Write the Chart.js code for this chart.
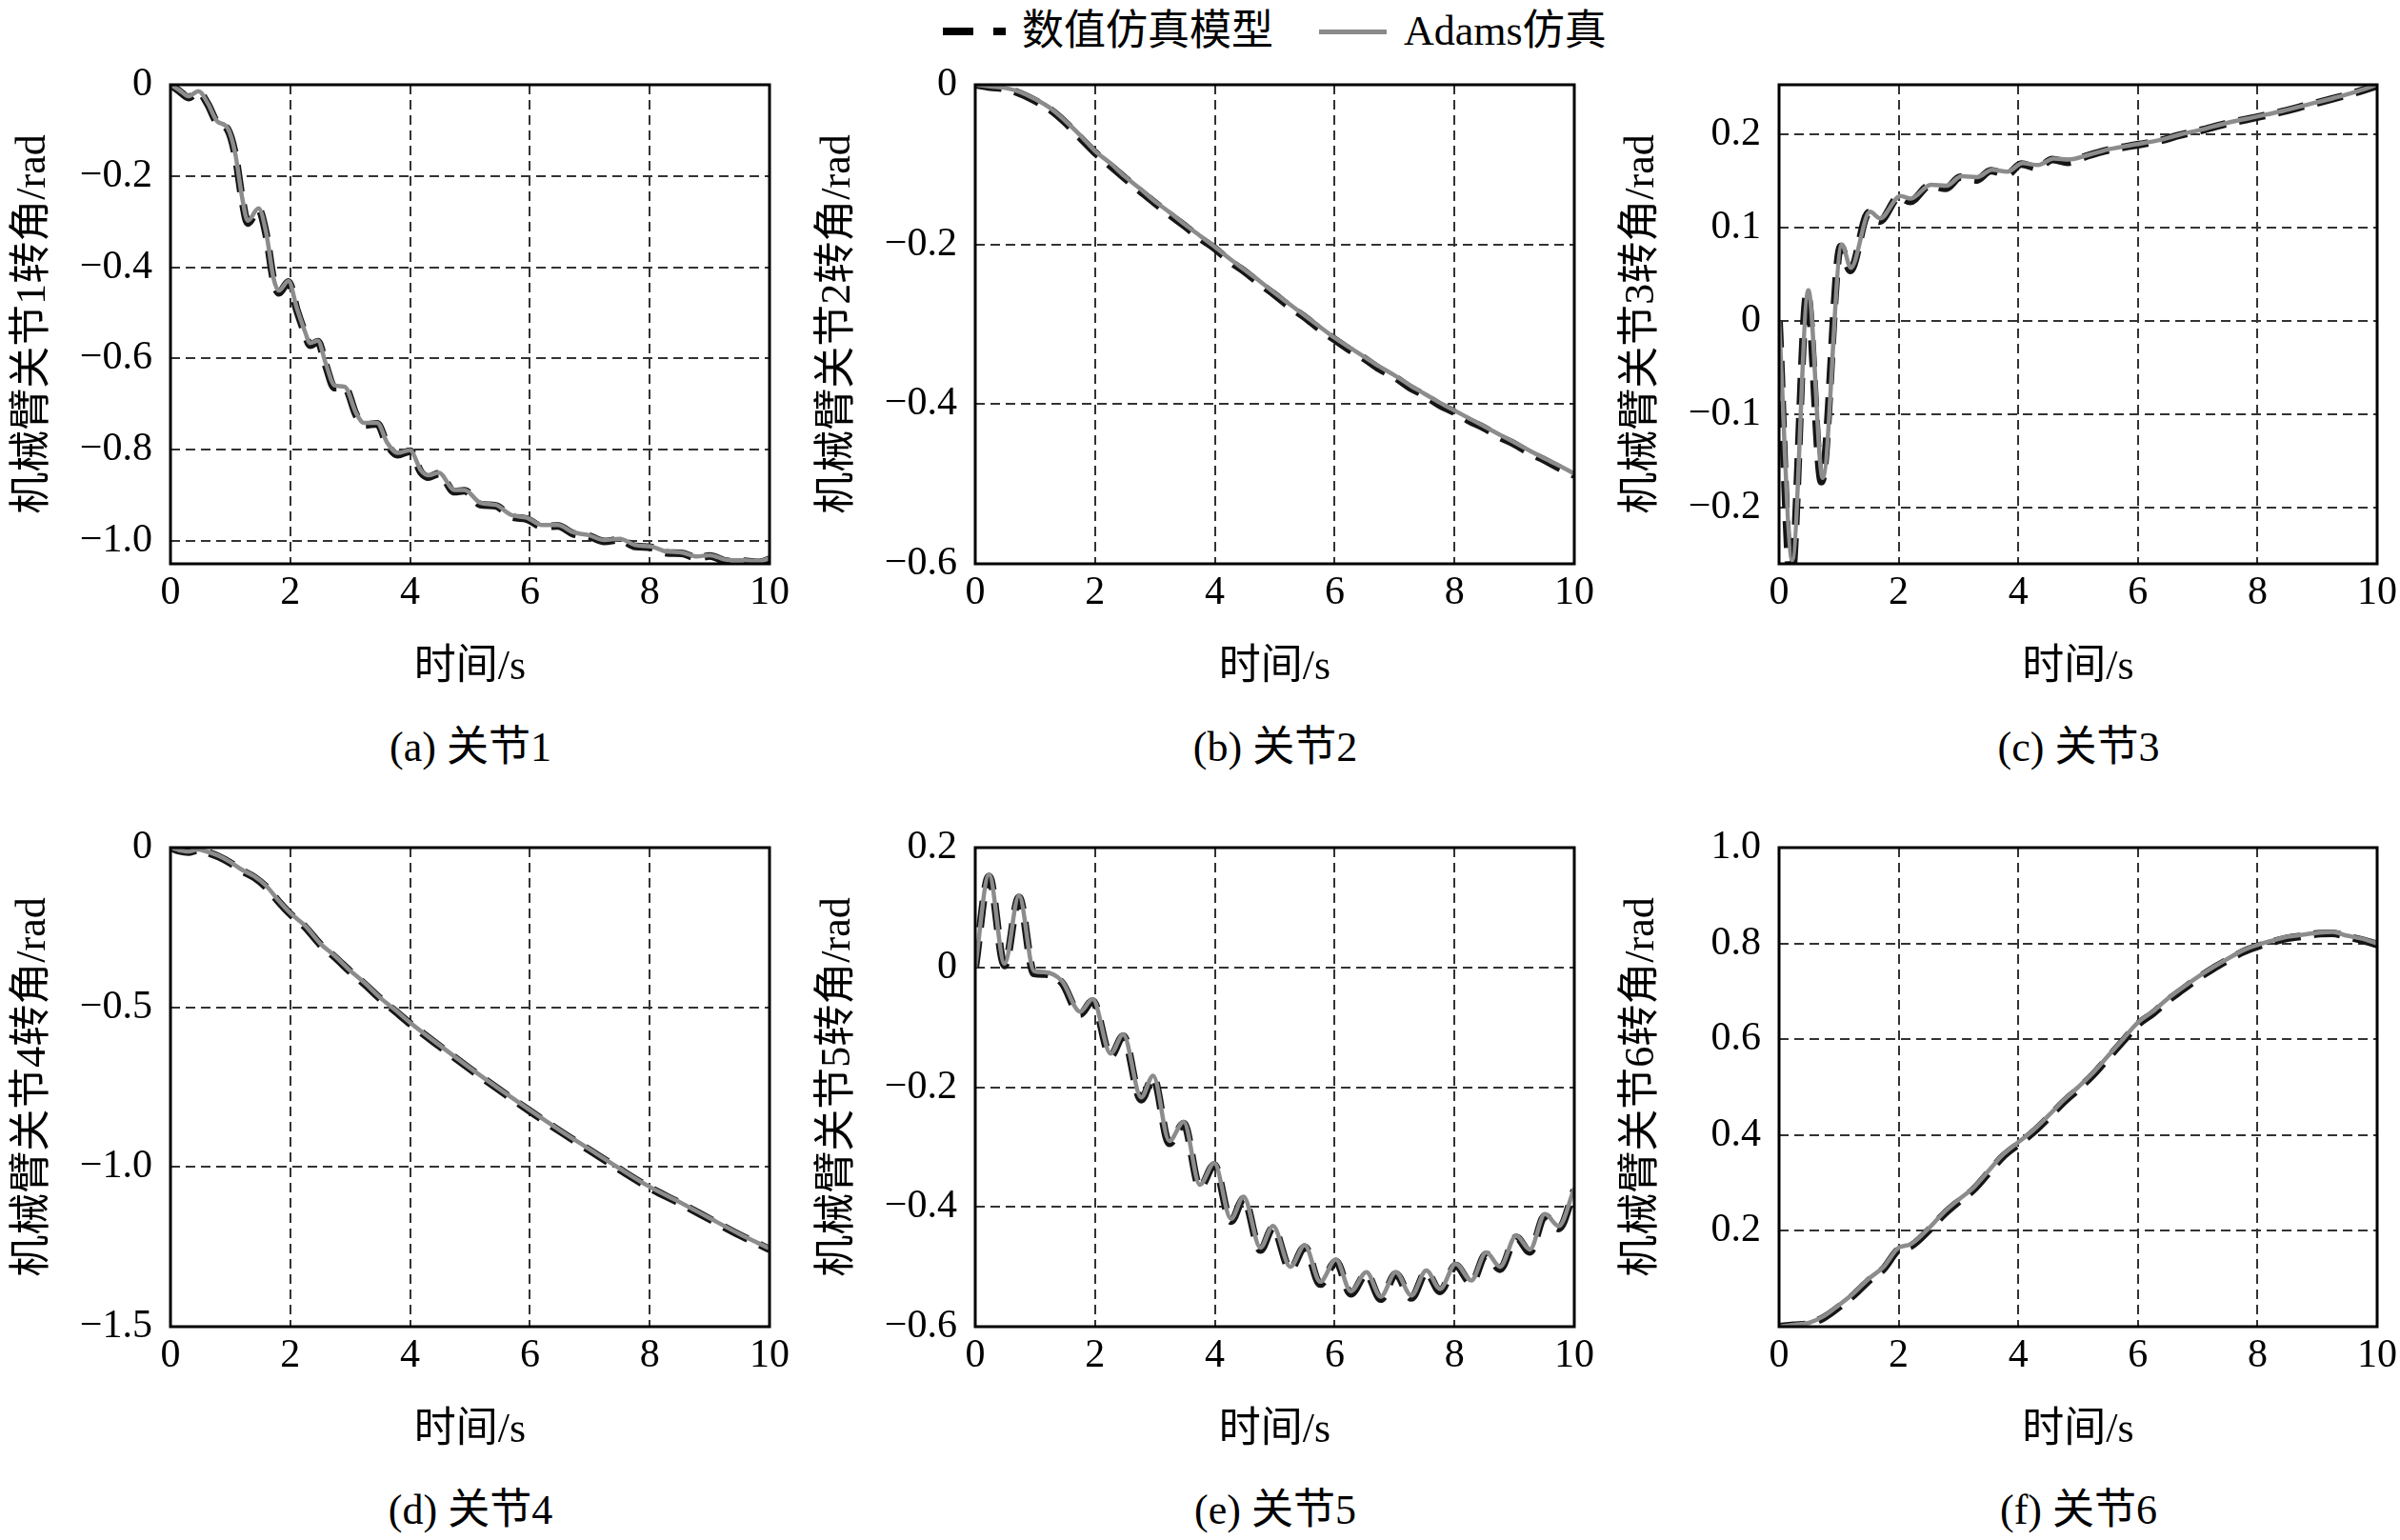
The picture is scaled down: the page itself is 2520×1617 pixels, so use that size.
<!DOCTYPE html>
<html><head><meta charset="utf-8">
<script src="https://cdn.jsdelivr.net/npm/chart.js@4.4.1/dist/chart.umd.min.js"></script>
<style>
html,body{margin:0;padding:0;background:#fff;}
#fig{position:relative;width:2520px;height:1617px;background:#fff;overflow:hidden;font-family:'Liberation Serif','Noto Sans CJK SC',serif;color:#000;}
#fig canvas{position:absolute;}
.cap{position:absolute;font-size:44px;line-height:52px;white-space:nowrap;transform:translate(-50%,-50%);}
.ltxt{position:absolute;font-size:44px;line-height:52px;white-space:nowrap;transform:translate(0,-50%);}
.lg{position:absolute;}
</style></head>
<body><div id="fig">
<div class="lg" style="left:990px;top:29px;width:32px;height:8px;background:#000"></div>
<div class="lg" style="left:1043px;top:29px;width:13px;height:8px;background:#000"></div>
<div class="ltxt" style="left:1073px;top:33px">数值仿真模型</div>
<div class="lg" style="left:1385px;top:30.5px;width:71px;height:5px;background:#8a8a8a"></div>
<div class="ltxt" style="left:1474px;top:33px">Adams仿真</div>
</div>
<script>
// ---------- data ----------
const seriesNames = ['数值仿真模型', 'Adams仿真'];
const xTicks = [0, 2, 4, 6, 8, 10];
const xTickLabels = ['0', '2', '4', '6', '8', '10'];
const xTitle = '时间/s';

// Panel (a) joint 1
const tA = [0,0.15,0.3,0.47,0.62,0.78,0.95,1.08,1.2,1.29,1.47,1.6,1.72,1.81,1.97,2.11,2.24,2.33,2.46,2.59,2.74,2.91,3.1,3.23,3.45,3.62,3.79,4.0,4.18,4.31,4.48,4.74,4.91,5.17,5.43,5.69,5.95,6.2,6.47,6.72,6.98,7.24,7.5,7.76,8.02,8.28,8.53,8.79,9.0,9.31,9.57,9.83,10];
const adamsA = [0,-0.012,-0.025,-0.014,-0.04,-0.08,-0.094,-0.15,-0.25,-0.298,-0.271,-0.326,-0.424,-0.451,-0.43,-0.49,-0.539,-0.566,-0.561,-0.61,-0.659,-0.662,-0.72,-0.741,-0.741,-0.785,-0.807,-0.801,-0.845,-0.856,-0.85,-0.888,-0.888,-0.916,-0.921,-0.943,-0.949,-0.965,-0.965,-0.981,-0.987,-0.998,-0.995,-1.009,-1.012,-1.023,-1.025,-1.034,-1.031,-1.042,-1.042,-1.044,-1.038];
const numA = [0,-0.014,-0.028,-0.016,-0.042,-0.083,-0.097,-0.153,-0.254,-0.303,-0.273,-0.33,-0.428,-0.456,-0.432,-0.494,-0.543,-0.571,-0.563,-0.614,-0.664,-0.664,-0.724,-0.746,-0.743,-0.789,-0.811,-0.803,-0.849,-0.86,-0.852,-0.892,-0.89,-0.92,-0.923,-0.947,-0.952,-0.968,-0.967,-0.984,-0.989,-1.001,-0.997,-1.012,-1.014,-1.026,-1.027,-1.037,-1.033,-1.045,-1.044,-1.047,-1.04];
const yTicksA = [0,-0.2,-0.4,-0.6,-0.8,-1.0];
const yLabelsA = ['0','−0.2','−0.4','−0.6','−0.8','−1.0'];

// Panel (b) joint 2
const tB = [0,0.25,0.5,0.75,1.0,1.25,1.5,1.75,2.0,2.25,2.5,2.75,3.0,3.25,3.5,3.75,4.0,4.25,4.5,4.75,5.0,5.25,5.5,5.75,6.0,6.25,6.5,6.75,7.0,7.25,7.5,7.75,8.0,8.25,8.5,8.75,9.0,9.25,9.5,9.75,10];
const adamsB = [0,-0.002,-0.004,-0.009,-0.018,-0.029,-0.045,-0.063,-0.083,-0.098,-0.115,-0.13,-0.146,-0.16,-0.175,-0.189,-0.203,-0.218,-0.232,-0.246,-0.261,-0.275,-0.289,-0.303,-0.317,-0.329,-0.341,-0.353,-0.364,-0.376,-0.387,-0.398,-0.408,-0.418,-0.428,-0.438,-0.448,-0.458,-0.468,-0.477,-0.487];
const numB = [0,-0.003,-0.005,-0.011,-0.02,-0.031,-0.047,-0.066,-0.085,-0.101,-0.117,-0.133,-0.148,-0.163,-0.177,-0.192,-0.205,-0.221,-0.234,-0.249,-0.263,-0.278,-0.291,-0.306,-0.319,-0.332,-0.343,-0.356,-0.366,-0.379,-0.389,-0.401,-0.41,-0.421,-0.43,-0.441,-0.45,-0.461,-0.47,-0.48,-0.489];
const yTicksB = [0,-0.2,-0.4,-0.6];
const yLabelsB = ['0','−0.2','−0.4','−0.6'];

// Panel (c) joint 3
const tC = [0,0.22,0.49,0.73,1.05,1.2,1.52,1.69,2.03,2.2,2.54,2.8,3.05,3.31,3.56,3.82,4.07,4.33,4.59,4.84,5.18,5.52,6.04,6.38,6.72,7.06,7.48,7.99,8.42,8.85,9.28,9.62,10];
const adamsC = [0,-0.256,0.033,-0.168,0.082,0.057,0.117,0.11,0.134,0.131,0.146,0.145,0.155,0.154,0.162,0.16,0.169,0.167,0.174,0.173,0.178,0.184,0.19,0.194,0.2,0.205,0.212,0.219,0.225,0.232,0.239,0.245,0.253];
const tCnum = [0,0.2,0.47,0.71,1.03,1.19,1.5,1.68,2.01,2.19,2.52,2.79,3.03,3.3,3.54,3.81,4.05,4.32,4.57,4.83,5.16,5.5,6.02,6.36,6.7,7.04,7.46,7.97,8.4,8.83,9.26,9.6,10];
const numC = [0,-0.28,0.03,-0.172,0.08,0.054,0.116,0.107,0.133,0.128,0.145,0.142,0.154,0.151,0.161,0.157,0.168,0.164,0.173,0.17,0.177,0.183,0.189,0.193,0.199,0.204,0.211,0.218,0.224,0.231,0.238,0.244,0.252];
const yTicksC = [0.2,0.1,0,-0.1,-0.2];
const yLabelsC = ['0.2','0.1','0','−0.1','−0.2'];

// Panel (d) joint 4
const tD = [0,0.15,0.3,0.45,0.6,0.8,1.0,1.2,1.4,1.6,1.8,2.0,2.25,2.5,2.75,3.0,3.25,3.5,3.75,4.0,4.5,5.0,5.5,6.0,6.5,7.0,7.5,8.0,8.5,9.0,9.5,10];
const adamsD = [0,-0.008,-0.012,-0.006,-0.012,-0.025,-0.045,-0.07,-0.09,-0.12,-0.165,-0.205,-0.245,-0.3,-0.34,-0.385,-0.425,-0.47,-0.508,-0.548,-0.62,-0.69,-0.757,-0.822,-0.885,-0.945,-1.005,-1.062,-1.11,-1.16,-1.21,-1.255];
const numD = [0,-0.01,-0.014,-0.008,-0.014,-0.028,-0.048,-0.073,-0.093,-0.124,-0.168,-0.208,-0.249,-0.303,-0.344,-0.388,-0.429,-0.473,-0.512,-0.551,-0.623,-0.693,-0.76,-0.825,-0.888,-0.948,-1.008,-1.065,-1.113,-1.163,-1.213,-1.258];
const yTicksD = [0,-0.5,-1.0,-1.5];
const yLabelsD = ['0','−0.5','−1.0','−1.5'];

// Panel (e) joint 5
const tE = [0,0.23,0.49,0.73,0.98,1.15,1.45,1.75,1.96,2.26,2.47,2.77,2.97,3.24,3.48,3.75,3.99,4.27,4.48,4.76,4.97,5.26,5.5,5.76,6.02,6.27,6.53,6.77,7.02,7.28,7.53,7.76,8.02,8.28,8.53,8.76,9.03,9.26,9.51,9.74,10];
const adamsE = [0,0.155,0.006,0.12,-0.006,-0.008,-0.023,-0.074,-0.053,-0.144,-0.112,-0.217,-0.181,-0.29,-0.258,-0.363,-0.327,-0.42,-0.383,-0.468,-0.432,-0.5,-0.464,-0.525,-0.488,-0.541,-0.509,-0.55,-0.509,-0.548,-0.506,-0.537,-0.495,-0.523,-0.476,-0.5,-0.448,-0.471,-0.412,-0.432,-0.369];
const numE = [0,0.152,0.003,0.117,-0.01,-0.011,-0.026,-0.078,-0.056,-0.148,-0.115,-0.221,-0.184,-0.294,-0.261,-0.367,-0.33,-0.424,-0.386,-0.472,-0.435,-0.504,-0.467,-0.529,-0.491,-0.545,-0.512,-0.554,-0.512,-0.552,-0.509,-0.541,-0.498,-0.527,-0.479,-0.504,-0.451,-0.475,-0.415,-0.436,-0.372];
const yTicksE = [0.2,0,-0.2,-0.4,-0.6];
const yLabelsE = ['0.2','0','−0.2','−0.4','−0.6'];

// Panel (f) joint 6
const tF = [0,0.25,0.5,0.75,1.0,1.25,1.5,1.75,2.0,2.2,2.5,2.75,3.0,3.25,3.5,3.75,4.0,4.25,4.5,4.75,5.0,5.25,5.5,5.75,6.0,6.25,6.5,6.75,7.0,7.25,7.5,7.75,8.0,8.25,8.5,8.75,9.0,9.25,9.5,9.75,10];
const adamsF = [0,0.004,0.008,0.022,0.045,0.07,0.1,0.125,0.165,0.172,0.205,0.238,0.265,0.29,0.325,0.36,0.385,0.41,0.44,0.472,0.5,0.53,0.565,0.6,0.635,0.658,0.685,0.708,0.73,0.75,0.768,0.785,0.797,0.806,0.814,0.818,0.822,0.824,0.816,0.81,0.8];
const numF = [0,0.003,0.006,0.019,0.041,0.066,0.096,0.121,0.161,0.168,0.201,0.234,0.261,0.286,0.321,0.356,0.381,0.406,0.436,0.468,0.496,0.526,0.561,0.596,0.631,0.654,0.681,0.704,0.727,0.747,0.765,0.782,0.794,0.803,0.811,0.815,0.82,0.821,0.814,0.807,0.798];
const yTicksF = [1.0,0.8,0.6,0.4,0.2];
const yLabelsF = ['1.0','0.8','0.6','0.4','0.2'];

const captions = ['(a) 关节1','(b) 关节2','(c) 关节3','(d) 关节4','(e) 关节5','(f) 关节6'];
const yTitles = ['机械臂关节1转角/rad','机械臂关节2转角/rad','机械臂关节3转角/rad','机械臂关节4转角/rad','机械臂关节5转角/rad','机械臂关节6转角/rad'];

// ---------- layout ----------
const colLeft = [179, 1024, 1868];
const colWidth = [630, 630, 629];
const rowTop = [89, 890];
const plotH = 503;
const YW = 179, XH = 140, PADT = 60, PADR = 26, PADB = 10;
const FONT = "'Liberation Serif', 'Noto Sans CJK SC', serif";

const pts = (xs, ys) => xs.map((x, i) => ({x: x, y: ys[i]}));

const panels = [
  {t: tA, tn: tA, adams: adamsA, num: numA, min: -1.05, max: 0, yt: yTicksA, yl: yLabelsA},
  {t: tB, tn: tB, adams: adamsB, num: numB, min: -0.6, max: 0, yt: yTicksB, yl: yLabelsB},
  {t: tC, tn: tCnum, adams: adamsC, num: numC, min: -0.26, max: 0.253, yt: yTicksC, yl: yLabelsC},
  {t: tD, tn: tD, adams: adamsD, num: numD, min: -1.5, max: 0, yt: yTicksD, yl: yLabelsD},
  {t: tE, tn: tE, adams: adamsE, num: numE, min: -0.6, max: 0.2, yt: yTicksE, yl: yLabelsE},
  {t: tF, tn: tF, adams: adamsF, num: numF, min: 0, max: 1.0, yt: yTicksF, yl: yLabelsF}
];

const framePlugin = {
  id: 'frame',
  afterDatasetsDraw(chart) {
    const a = chart.chartArea, ctx = chart.ctx;
    ctx.save();
    ctx.setLineDash([]);
    ctx.strokeStyle = '#000';
    ctx.lineWidth = 3;
    ctx.strokeRect(a.left, a.top, a.right - a.left, a.bottom - a.top);
    ctx.restore();
  }
};

const fig = document.getElementById('fig');
panels.forEach((p, k) => {
  const col = k % 3, row = Math.floor(k / 3);
  const W = YW + colWidth[col] + PADR;
  const H = PADT + plotH + XH + PADB;
  const cv = document.createElement('canvas');
  cv.width = W; cv.height = H;
  cv.style.width = W + 'px'; cv.style.height = H + 'px';
  cv.style.left = (colLeft[col] - YW) + 'px';
  cv.style.top = (rowTop[row] - PADT) + 'px';
  fig.appendChild(cv);

  const cap = document.createElement('div');
  cap.className = 'cap';
  cap.textContent = captions[k];
  cap.style.left = (colLeft[col] + colWidth[col] / 2) + 'px';
  cap.style.top = (rowTop[row] + 696) + 'px';
  fig.appendChild(cap);

  new Chart(cv, {
    type: 'line',
    data: {
      datasets: [
        {label: seriesNames[1], data: pts(p.t, p.adams), borderColor: '#8c8c8c', borderWidth: 4.5,
         pointRadius: 0, cubicInterpolationMode: 'monotone', order: 0, clip: 0, fill: false},
        {label: seriesNames[0], data: pts(p.tn, p.num), borderColor: '#151515', borderWidth: 8,
         borderDash: [28, 14], pointRadius: 0, cubicInterpolationMode: 'monotone', order: 1, clip: 0, fill: false}
      ]
    },
    options: {
      responsive: false,
      animation: false,
      devicePixelRatio: 1,
      layout: {padding: {left: 0, top: PADT, right: PADR, bottom: PADB}},
      plugins: {legend: {display: false}, tooltip: {enabled: false}, title: {display: false}},
      scales: {
        x: {
          type: 'linear', min: 0, max: 10,
          afterBuildTicks: s => { s.ticks = xTicks.map(v => ({value: v})); },
          afterFit: s => { s.height = XH; },
          ticks: {callback: (v, i) => xTickLabels[i], font: {family: FONT, size: 42}, color: '#000', padding: 6, maxRotation: 0, autoSkip: false},
          grid: {color: '#333', lineWidth: 2, drawTicks: false},
          border: {display: false, dash: [10, 6]},
          title: {display: true, text: xTitle, font: {family: FONT, size: 44}, color: '#000', padding: {top: 0, bottom: 4}}
        },
        y: {
          type: 'linear', min: p.min, max: p.max,
          afterBuildTicks: s => { s.ticks = p.yt.map(v => ({value: v})); },
          afterFit: s => { s.width = YW; },
          ticks: {callback: (v, i) => p.yl[i], font: {family: FONT, size: 42}, color: '#000', padding: 19, autoSkip: false},
          grid: {color: '#333', lineWidth: 2, drawTicks: false},
          border: {display: false, dash: [10, 6]},
          title: {display: true, text: yTitles[k], font: {family: FONT, size: 44}, color: '#000', padding: {top: 9, bottom: 0}}
        }
      }
    },
    plugins: [framePlugin]
  });
});
</script>
</body></html>
